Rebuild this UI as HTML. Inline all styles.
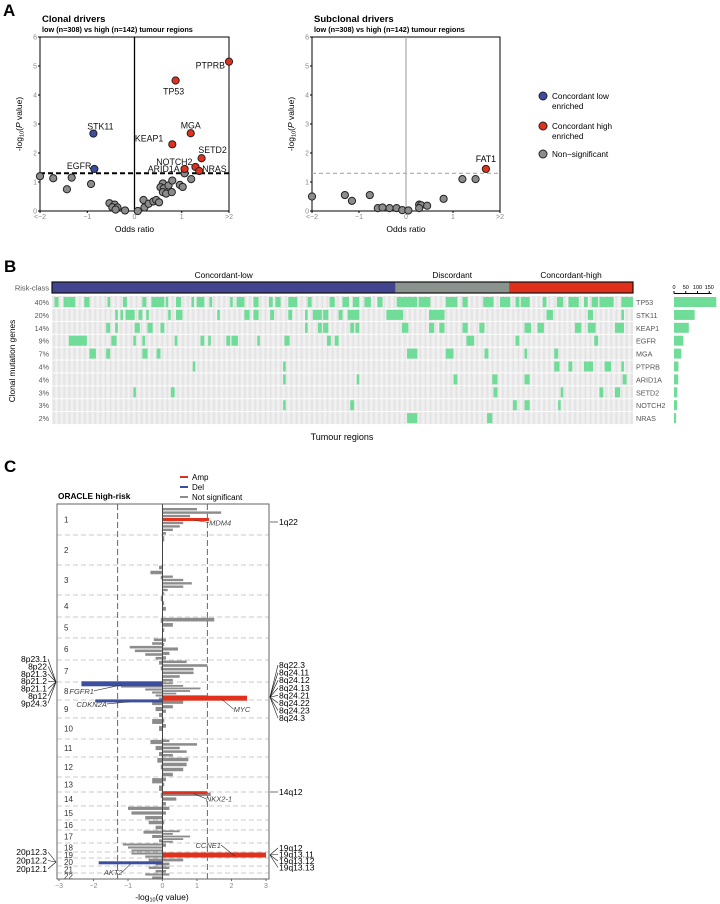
<!DOCTYPE html>
<html><head><meta charset="utf-8">
<style>
html,body{margin:0;padding:0;background:#fff;}
svg{display:block;font-family:"Liberation Sans",Arial,sans-serif;}
</style></head>
<body>
<svg id="fig" width="720" height="904" viewBox="0 0 720 904" xmlns="http://www.w3.org/2000/svg">
<defs>
<pattern id="stripes" x="52" y="0" width="5.16" height="20" patternUnits="userSpaceOnUse">
<rect x="0" y="0" width="5.16" height="20" fill="#ececec"/>
<rect x="1.3" y="0" width="1.3" height="20" fill="#e2e2e2"/>
<rect x="3.9" y="0" width="1.3" height="20" fill="#f2f2f2"/>
</pattern>
</defs>
<g id="A"></g>
<g id="B"></g>
<g id="C"></g>
</svg>
<script>
// ---------- Panel A data ----------
const clonalGenes = ["PTPRB","TP53","STK11","MGA","KEAP1","SETD2","NOTCH2","NRAS","ARID1A","EGFR"];
const clonalOR = [2.0,0.87,-0.87,1.19,0.8,1.42,1.29,1.37,1.06,-0.85];
const clonalP = [5.15,4.5,2.67,2.68,2.3,1.82,1.52,1.38,1.45,1.45];
const clonalClass = ["high","high","low","high","high","high","high","high","high","low"];
const clonalNsOR = [-2,-1.72,-1.33,-1.43,-0.92,-0.53,-0.42,-0.47,-0.36,-0.2,-0.4,0.07,0.19,0.21,0.3,0.4,0.46,0.52,0.6,0.55,0.62,0.6,0.67,0.72,0.79,0.8,0.96,1.02,1.06,1.2];
const clonalNsP = [1.2,1.13,1.15,0.75,0.93,0.27,0.22,0.13,0.12,0.02,0.05,0,0.38,0.12,0.25,0.33,0.38,0.3,0.95,0.82,0.78,0.65,0.6,0.88,0.65,1.05,0.9,0.83,1.3,1.1];
const subGenes = ["FAT1"];
const subOR = [1.7];
const subP = [1.45];
const subNsOR = [-2,-1.3,-1.15,-0.77,-0.6,-0.5,-0.35,-0.2,-0.08,0.05,0.28,0.32,0.45,0.28,0.8,1.2,1.48];
const subNsP = [0.5,0.55,0.35,0.55,0.1,0.12,0.1,0.1,0.03,0.02,0.22,0.2,0.18,0.1,0.42,1.1,1.1];
const yTicksA = [0,1,2,3,4,5,6];
const xTicksA = [-2,-1,0,1,2];
const xTickLabelsA = ["<\u22122","\u22121","0","1",">2"];

// ---------- Panel B data ----------
const riskLabels = ["Concordant-low","Discordant","Concordant-high"];
const riskCounts = [266,88,96];
const geneNames = ["TP53","STK11","KEAP1","EGFR","MGA","PTPRB","ARID1A","SETD2","NOTCH2","NRAS"];
const genePct = ["40%","20%","14%","9%","7%","4%","4%","3%","3%","2%"];
const geneCounts = [180,88,63,40,31,19,18,14,13,9];
const barTicks = [0,50,100,150];
const mutRuns = [
 [[2,4],[9,12],[13,17],[25,28],[43,44],[55,57],[70,72],[77,86],[88,89],[96,99],[108,109],[112,117],[122,123],[138,139],[143,148],[156,159],[168,170],[173,176],[183,189],[198,200],[215,218],[225,229],[233,237],[242,246],[252,255],[267,282],[284,292],[305,313],[318,321],[334,341],[347,354],[359,361],[363,369],[380,382],[391,395],[400,407],[412,414],[418,422],[424,434],[441,449]],
 [[49,50],[53,54],[57,63],[67,69],[73,74],[90,91],[96,100],[128,129],[149,152],[156,159],[169,171],[183,185],[196,197],[202,208],[210,213],[222,224],[229,237],[259,271],[292,303],[383,387],[415,418],[441,442]],
 [[42,44],[49,50],[64,67],[74,77],[84,86],[196,197],[206,208],[210,213],[231,233],[235,237],[271,275],[292,295],[300,303],[318,321],[331,334],[366,370],[376,380],[405,409],[415,420],[436,442]],
 [[13,18],[19,26],[46,49],[63,64],[70,71],[95,96],[115,117],[121,122],[135,137],[139,143],[159,160],[180,183],[213,215],[219,221],[321,326],[359,361],[420,422]],
 [[29,33],[42,44],[70,73],[81,83],[275,282],[305,310],[335,337],[366,367],[389,391]],
 [[109,110],[179,180],[389,392],[400,402],[412,414],[415,418],[428,432],[441,442]],
 [[179,180],[236,237],[311,313],[341,344],[366,369],[442,444]],
 [[63,64],[92,94],[342,344],[394,395],[424,426],[436,439]],
 [[179,180],[231,233],[357,359],[366,369],[392,393]],
 [[275,282],[337,340]]
];

// ---------- Panel C data ----------
const chromosomes = ["1","2","3","4","5","6","7","8","9","10","11","12","13","14","15","16","17","18","19","20","21","22"];
const grayAmp = [
 [0,1.0,1.7,0.8,0.6,0.6,0.5,0.3,0.1],[0.05,0,0,0],[0,0,0,0.3,0.6,0.85,0.6,0.15,0.05],[0,0.05,0.1,0],
 [1.5,0.3,0.05,0],[0.1,0.05,0.45,0.2,0.1],[0.7,1.3,0.9,0.9,0.5,0.3],[0.3,0.6,1.1,0.8,0.4,1.3,0.6],
 [0.6,0.3,0.1,0],[0.05,0.1,0,0],[0.2,1.0,0.5,0.7,0.3],[0.75,0.7,0.6,0.3],[0.1,0.05,0],[1.4,0.4,0.1],
 [0.2,0.1,0],[0.05,0],[0.5,0.3,0.8,0.6,0.3],[0.1,0],[0.3,0.2],[0.6,0.2],[0.2,0.1],[0.2,0]
];
const grayDel = [
 [0,0,0,0],[0,0,0,0],[0.1,0.35,0.05,0,0,0],[0.05,0,0],[0.05,0,0],[0.25,0.3,0.95,0.8,0.5,0.2],[0.1,0.05,0,0],
 [2.1,1.2,0.5,0.3,0.2,0.1],[0.3,0.2,0.1],[0.3,0.1,0],[0.35,0.2,0.1],[0.15,0.05,0],[0.3,0.1],[0.05,0.02],
 [1.0,0.9,0.5],[0.4,0.2],[0.55,0.3,0.1],[1.15,1.0,0.9],[0.9,0.5],[0.4,0.2],[0.4,0.2],[0.5,0.3]
];
const sigChr = [1,8,8,9,14,19,20];
const sigFrac = [0.5,0.1,0.9,0.05,0.05,0.5,0.6];
const sigValue = [1.35,-2.35,2.45,-1.95,1.3,3.0,-1.85];
const sigGene = ["MDM4","FGFR1","MYC","CDKN2A","NKX2-1","CCNE1","AKT2"];
const xTicksC = [-3,-2,-1,0,1,2,3];
const rightLabelGroups = [["1q22"],["8q22.3","8q24.11","8q24.12","8q24.13","8q24.21","8q24.22","8q24.23","8q24.3"],["14q12"],["19q12","19q13.11","19q13.12","19q13.13"]];
const leftLabelGroups = [["8p23.1","8p22","8p21.3","8p21.2","8p21.1","8p12","9p24.3"],["20p12.3","20p12.2","20p12.1"]];

// ---------- helpers ----------
const NS="http://www.w3.org/2000/svg";
function mk(tag, attrs, parent){const e=document.createElementNS(NS,tag);for(const k in attrs)e.setAttribute(k,attrs[k]);parent.appendChild(e);return e;}
function txt(str, attrs, parent){const e=mk("text",attrs,parent);e.textContent=str;return e;}
const A=document.getElementById("A"),B=document.getElementById("B"),C=document.getElementById("C");
const COL={low:"#3b4ea0",high:"#e1301c",ns:"#8c8c8c"};

// ---------- Panel A ----------
let el;
el=txt("A",{x:3,y:16,"font-size":17,"font-weight":"bold"},A);



function volcano(g, x0, x1, title, isClonal){
  const y0=211,y1=37;
  const xs=v=>(x0+x1)/2+v*(x1-x0)/4;
  const ys=v=>y0-v*(y0-y1)/6;
  let t=txt(title,{x:x0+2,y:22,"font-size":9.5,"font-weight":"bold"},g);
  
  
  t=txt("low (n=308) vs high (n=142) tumour regions",{x:x0+2,y:32,"font-size":7.3,"font-weight":"bold"},g);
  
  
  let r=mk("rect",{x:x0,y:y1,width:x1-x0,height:y0-y1,fill:"none",stroke:"#000","stroke-width":1},g);
  
  
  let l=mk("line",{x1:xs(0),x2:xs(0),y1:y1,y2:y0,stroke:isClonal?"#000":"#999","stroke-width":isClonal?1.3:1},g);
  
  
  l=mk("line",{x1:x0,x2:x1,y1:ys(1.3),y2:ys(1.3),stroke:isClonal?"#000":"#aaa","stroke-width":isClonal?2:1.2,"stroke-dasharray":isClonal?"5,3":"4,3"},g);
  
  
  yTicksA.forEach(v=>{
    let tk=txt(v,{x:x0-3,y:ys(v)+2.5,"font-size":7,"text-anchor":"end",fill:"#888"},g);
    
    
    mk("line",{x1:x0-2,x2:x0,y1:ys(v),y2:ys(v),stroke:"#000"},g);
  });
  xTicksA.forEach((v,i)=>{
    let tk=txt(xTickLabelsA[i],{x:xs(v),y:219,"font-size":7,"text-anchor":"middle",fill:"#888"},g);
    
    
    mk("line",{x1:xs(v),x2:xs(v),y1:y0,y2:y0+2,stroke:"#000"},g);
  });
  let xl=txt("Odds ratio",{x:(x0+x1)/2,y:232,"font-size":8.5,"text-anchor":"middle"},g);
  
  
  let yl=txt("",{x:0,y:0,"font-size":8.5,"text-anchor":"middle",transform:`translate(${x0-18},124) rotate(-90)`},g);
  yl.innerHTML='-log<tspan font-size="5.5" dy="1.5">10</tspan><tspan dy="-1.5">(</tspan><tspan font-style="italic">P</tspan> value)';
  
  
  return {xs,ys};
}
const sA=volcano(A,40,229,"Clonal drivers",true);
clonalNsOR.forEach((o,i)=>{
  let c=mk("circle",{cx:sA.xs(o),cy:sA.ys(clonalNsP[i]),r:3.6,fill:COL.ns,stroke:"#222","stroke-width":1},A);
  
  
});
const labPos={PTPRB:[-4,4,"end"],TP53:[-2,11,"middle"],STK11:[7,-7,"middle"],MGA:[0,-8,"middle"],KEAP1:[-9,-6,"end"],SETD2:[11,-8,"middle"],NOTCH2:[-3,-5,"end"],NRAS:[3,-2,"start"],ARID1A:[-5,0,"end"],EGFR:[-3,-3,"end"]};
clonalGenes.forEach((gn,i)=>{
  const cx=sA.xs(clonalOR[i]),cy=sA.ys(clonalP[i]);
  let c=mk("circle",{cx:cx,cy:cy,r:3.6,fill:COL[clonalClass[i]],stroke:"#222","stroke-width":1},A);
  
  
  const p=labPos[gn];
  let t=txt(gn,{x:cx+p[0],y:cy+p[1]+3,"font-size":8.8,"text-anchor":p[2],fill:"#111"},A);
  
  
});
const sS=volcano(A,312,500,"Subclonal drivers",false);
subNsOR.forEach((o,i)=>{
  let c=mk("circle",{cx:sS.xs(o),cy:sS.ys(subNsP[i]),r:3.6,fill:COL.ns,stroke:"#222","stroke-width":1},A);
  
  
});
subGenes.forEach((gn,i)=>{
  const cx=sS.xs(subOR[i]),cy=sS.ys(subP[i]);
  let c=mk("circle",{cx:cx,cy:cy,r:3.6,fill:COL.high,stroke:"#222","stroke-width":1},A);
  
  
  let t=txt(gn,{x:cx,y:cy-7,"font-size":8.8,"text-anchor":"middle"},A);
  
  
});
const legA=[[COL.low,["Concordant low","enriched"],96],[COL.high,["Concordant high","enriched"],126],[COL.ns,["Non\u2212significant"],154]];
legA.forEach(e=>{
  let c=mk("circle",{cx:543,cy:e[2],r:4,fill:e[0],stroke:"#222","stroke-width":1},A);
  
  
  e[1].forEach((s,j)=>{
    let t=txt(s,{x:552,y:e[2]+3+j*10,"font-size":8.2},A);
    
    
  });
});

// ---------- Panel B ----------
el=txt("B",{x:4,y:272,"font-size":17,"font-weight":"bold"},B);


const hx0=52,hx1=633,nCols=riskCounts.reduce((a,b)=>a+b,0);
const cw=(hx1-hx0)/nCols;
const colX=i=>hx0+i*cw;
const rowTop=i=>296+i*12.9;
const riskColors=["#43448f","#8b938f","#e0301c"];
let acc=0;
riskCounts.forEach((n,i)=>{
  let r=mk("rect",{x:colX(acc),y:282,width:n*cw,height:11,fill:riskColors[i]},B);
  
  
  let t=txt(riskLabels[i],{x:colX(acc+n/2),y:278,"font-size":8.3,"text-anchor":"middle"},B);
  
  
  acc+=n;
});
el=mk("rect",{x:hx0,y:282,width:hx1-hx0,height:11,fill:"none",stroke:"#111","stroke-width":1.2},B);


el=txt("Risk-class",{x:49,y:290.5,"font-size":7.5,"text-anchor":"end",fill:"#555"},B);


const bx0=674,bscale=0.235;
geneNames.forEach((gn,i)=>{
  const y=rowTop(i);
  let bg=mk("rect",{x:hx0,y:y,width:hx1-hx0,height:12,fill:"url(#stripes)"},B);
  
  
  mutRuns[i].forEach(rn=>{
    let m=mk("rect",{x:colX(rn[0]),y:y+1,width:(rn[1]-rn[0]+1)*cw,height:10,fill:"#6fdc98"},B);
    
    
  });
  let p=txt(genePct[i],{x:49,y:y+9,"font-size":7.2,"text-anchor":"end",fill:"#555"},B);
  
  
  let g=txt(gn,{x:636,y:y+9,"font-size":7.2,fill:"#555"},B);
  
  
  let b=mk("rect",{x:bx0,y:y+1,width:geneCounts[i]*bscale,height:10,fill:"#6fdc98"},B);
  
  
});
el=mk("line",{x1:bx0,x2:bx0+160*bscale,y1:293.5,y2:293.5,stroke:"#000","stroke-width":1},B);


barTicks.forEach(v=>{
  mk("line",{x1:bx0+v*bscale,x2:bx0+v*bscale,y1:291,y2:293.5,stroke:"#000"},B);
  let t=txt(v,{x:bx0+v*bscale,y:289,"font-size":5.5,"text-anchor":"middle"},B);
  
  
});
el=txt("Tumour regions",{x:342,y:440,"font-size":9,"text-anchor":"middle"},B);


el=txt("Clonal mutation genes",{x:0,y:0,"font-size":8.3,"text-anchor":"middle",transform:"translate(15,361) rotate(-90)"},B);



// ---------- Panel C ----------
el=txt("C",{x:4,y:472,"font-size":17,"font-weight":"bold"},C);


el=txt("ORACLE high-risk",{x:58,y:499,"font-size":8.3,"font-weight":"bold"},C);


const legC=[["#e1301c","Amp",477],["#3b4ea0","Del",487],["#8c8c8c","Not significant",497]];
legC.forEach(e=>{
  let l=mk("line",{x1:180,x2:188,y1:e[2],y2:e[2],stroke:e[0],"stroke-width":2},C);
  
  
  let t=txt(e[1],{x:192,y:e[2]+3,"font-size":8},C);
  
  
});
const cx0=57,cx1=269,cTop=504,cBot=879;
const xq=v=>162.5+v*34.5;
const chrBounds=[504,535,565,595,617,638,660,682,700,718,739,757,777,792,806,820,830,843,852,858,866,873,879];
// chromosome separators
chrBounds.slice(1,-1).forEach(y=>{
  let l=mk("line",{x1:cx0,x2:cx1,y1:y,y2:y,stroke:"#bbb","stroke-width":0.8,"stroke-dasharray":"5,3"},C);
  
  
});
[-1.3,1.3].forEach(v=>{
  let l=mk("line",{x1:xq(v),x2:xq(v),y1:cTop,y2:cBot,stroke:"#555","stroke-width":0.9,"stroke-dasharray":"6,3"},C);
  
  
});
// gray profile
chromosomes.forEach((c,i)=>{
  const yA=chrBounds[i],yB=chrBounds[i+1],h=yB-yA;
  [[grayAmp[i],1],[grayDel[i],-1]].forEach(pair=>{
    const arr=pair[0],sg=pair[1],n=arr.length,bh=h/n;
    arr.forEach((v,j)=>{
      if(v<=0)return;
      const x=sg>0?xq(0):xq(-v);
      let r=mk("rect",{x:x,y:yA+j*bh+bh*0.15,width:v*34.5,height:bh*0.7,fill:"#8c8c8c"},C);
      
      
    });
  });
  let t=txt(c,{x:64,y:(yA+yB)/2+3,"font-size":8,"text-anchor":"start",fill:"#333"},C);
  
  
});
// significant peaks
const geneLab={MDM4:[14,6,"start"],FGFR1:[-28,10,"end"],MYC:[12,14,"start"],CDKN2A:[-22,6,"end"],"NKX2-1":[12,9,"start"],CCNE1:[-14,-7,"end"],AKT2:[-8,12,"end"]};
sigChr.forEach((c,i)=>{
  const yA=chrBounds[c-1],yB=chrBounds[c];
  const y=yA+(yB-yA)*sigFrac[i];
  const v=sigValue[i];
  const x=v>0?xq(0):xq(v);
  const big=Math.abs(v)>2;
  let r=mk("rect",{x:x,y:y-(big?2.5:1.5),width:Math.abs(v)*34.5,height:big?5:3,fill:v>0?"#e1301c":"#3b4ea0"},C);
  
  
  const gp=geneLab[sigGene[i]];
  const ax=xq(v*0.7);
  const tx=v>0?ax+gp[0]:xq(v*0.5)+gp[0];
  mk("line",{x1:v>0?ax:xq(v*0.5),y1:y+1,x2:tx,y2:y+gp[1]-3,stroke:"#333","stroke-width":0.6},C);
  let t=txt(sigGene[i],{x:tx,y:y+gp[1],"font-size":7.5,"font-style":"italic","text-anchor":gp[2],fill:"#444"},C);
  
  
});
el=mk("line",{x1:xq(0),x2:xq(0),y1:cTop,y2:cBot,stroke:"#444","stroke-width":1},C);


el=mk("rect",{x:cx0,y:cTop,width:cx1-cx0,height:cBot-cTop,fill:"none",stroke:"#666","stroke-width":1},C);


xTicksC.forEach(v=>{
  mk("line",{x1:xq(v),x2:xq(v),y1:cBot,y2:cBot+2,stroke:"#666"},C);
  let t=txt(v<0?"\u2212"+(-v):v,{x:xq(v),y:888,"font-size":7,"text-anchor":"middle",fill:"#888"},C);
  
  
});
el=txt("",{x:162,y:900,"font-size":8.5,"text-anchor":"middle"},C);
el.innerHTML='-log<tspan font-size="5.5" dy="1.5">10</tspan><tspan dy="-1.5">(</tspan><tspan font-style="italic">q</tspan> value)';


// cytoband labels
const rightAnchors=[522,697,792,855];
const rightStarts=[522,665,792,848];
rightLabelGroups.forEach((grp,gi)=>{
  grp.forEach((s,j)=>{
    const ty=grp.length===1?rightStarts[gi]:rightStarts[gi]+j*(grp.length>4?7.6:6.5);
    mk("line",{x1:270,y1:rightAnchors[gi],x2:278,y2:ty,stroke:"#111","stroke-width":0.6},C);
    let t=txt(s,{x:279,y:ty+3,"font-size":8.5},C);
    
    
  });
});
const leftAnchors=[682,862];
const leftStarts=[659,852];
leftLabelGroups.forEach((grp,gi)=>{
  grp.forEach((s,j)=>{
    const ty=leftStarts[gi]+j*(gi===0?7.4:8.5);
    mk("line",{x1:56,y1:leftAnchors[gi],x2:48,y2:ty,stroke:"#111","stroke-width":0.6},C);
    let t=txt(s,{x:47,y:ty+3,"font-size":8.5,"text-anchor":"end"},C);
    
    
  });
});
</script>
</body></html>
